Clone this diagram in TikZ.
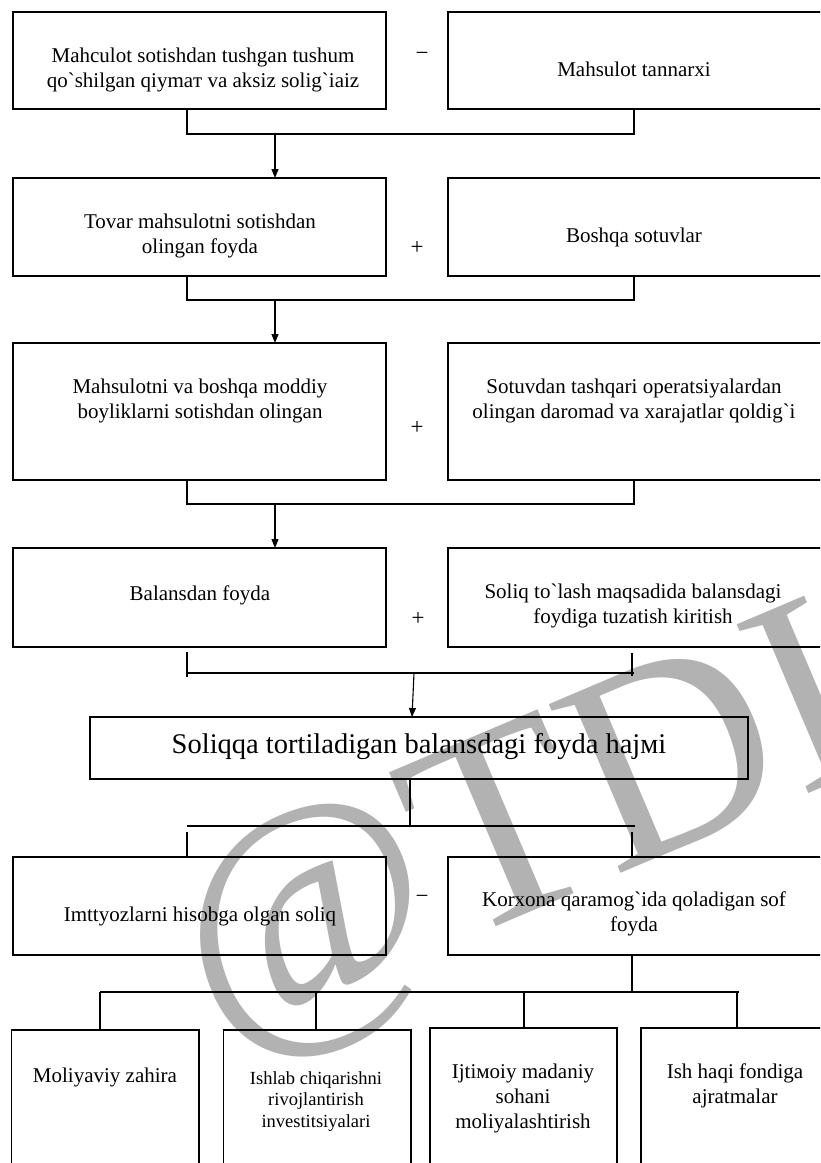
\documentclass[tikz,border=0pt]{standalone}
\usepackage{fontspec}
\setmainfont{Liberation Serif}[Ligatures=TeXOff]
\usetikzlibrary{arrows.meta,calc}
\definecolor{wmgray}{RGB}{178,178,178}
\tikzset{
  box/.style={draw, line width=1.1pt, inner sep=0pt, outer sep=0pt},
  txt/.style={inner sep=0pt, align=center, font=\fontsize{21}{25}\selectfont,
    execute at begin node=\strut, execute at end node=\strut},
  smalltxt/.style={txt, font=\fontsize{18.5}{21.5}\selectfont},
  bigtxt/.style={txt, font=\fontsize{28.5}{34}\selectfont},
  opsign/.style={txt, font=\fontsize{23}{25}\selectfont},
  conn/.style={line width=1.1pt},
  arr/.style={line width=1.1pt, -{Triangle[length=9pt,width=7pt]}},
}
\begin{document}
\begin{tikzpicture}[x=1pt,y=-1pt]
\clip (0,0) rectangle (820,1163);
\fill[white] (0,0) rectangle (820,1163);
% watermark
\node[anchor=base west, rotate=23, inner sep=0pt, text=wmgray,
  font=\fontsize{280}{280}\selectfont] (wm) at (218.6,1044.6) {@TDI};
% boxes
\node[box, minimum width=373pt, minimum height=97pt] (b1l) at (199.5,60.5) {};
\node[box, minimum width=382pt, minimum height=97pt] (b1r) at (639,60.5) {};
\node[box, minimum width=373pt, minimum height=98pt] (b2l) at (199.5,227) {};
\node[box, minimum width=382pt, minimum height=98pt] (b2r) at (639,227) {};
\node[box, minimum width=373pt, minimum height=137pt] (b3l) at (199.5,411.5) {};
\node[box, minimum width=382pt, minimum height=137pt] (b3r) at (639,411.5) {};
\node[box, minimum width=373pt, minimum height=99pt] (b4l) at (199.5,597.5) {};
\node[box, minimum width=382pt, minimum height=99pt] (b4r) at (639,597.5) {};
\node[box, minimum width=658pt, minimum height=62pt] (bbig) at (419,748) {};
\node[box, minimum width=373pt, minimum height=98pt] (b5l) at (199.5,906) {};
\node[box, minimum width=382pt, minimum height=98pt] (b5r) at (639,906) {};
\node[box, minimum width=187.5pt, minimum height=145pt] (bb1) at (105.25,1102.5) {};
\node[box, minimum width=187.5pt, minimum height=145pt] (bb2) at (317.25,1102.5) {};
\node[box, minimum width=187pt, minimum height=147pt] (bb3) at (523.5,1101.5) {};
\node[box, minimum width=189pt, minimum height=147pt] (bb4) at (735.5,1101.5) {};
% texts
\node[txt] (t1l) at (203,71.5) {Mahculot sotishdan tushgan tushum\\qo`shilgan qiymaт va aksiz solig`iaiz};
\node[txt] (t1r) at (634,71) {Mahsulot tannarxi};
\node[opsign] (op1) at (422,55) {−};
\node[txt] (t2l) at (200,237.5) {Tovar mahsulotni sotishdan\\olingan foyda};
\node[txt] (t2r) at (634,237) {Boshqa sotuvlar};
\node[opsign] (op2) at (417,249) {+};
\node[txt] (t3l) at (200,402.5) {Mahsulotni va boshqa moddiy\\boyliklarni sotishdan olingan};
\node[txt] (t3r) at (634,402.5) {Sotuvdan tashqari operatsiyalardan\\olingan daromad va xarajatlar qoldig`i};
\node[opsign] (op3) at (417,429) {+};
\node[txt] (t4l) at (200,595) {Balansdan foyda};
\node[txt] (t4r) at (633,607.5) {Soliq to`lash maqsadida balansdagi\\foydiga tuzatish kiritish};
\node[opsign] (op4) at (418,620) {+};
\node[bigtxt] (tbig) at (419,747) {Soliqqa tortiladigan balansdagi foyda hajмi};
\node[txt] (t5l) at (200,916) {Imttyozlarni hisobga olgan soliq};
\node[txt] (t5r) at (634,915) {Korxona qaramog`ida qoladigan sof\\foyda};
\node[opsign] (op5) at (422,898) {−};
\node[txt] (tb1) at (105,1077) {Moliyaviy zahira};
\node[smalltxt] (tb2) at (316,1102.5) {Ishlab chiqarishni\\rivojlantirish\\investitsiyalari};
\node[txt] (tb3) at (523,1099.7) {Ijtiмoiy madaniy\\sohani\\moliyalashtirish};
\node[txt] (tb4) at (735,1087.5) {Ish haqi fondiga\\ajratmalar};
% junction coordinates
\coordinate (xL) at (187,0);
\coordinate (xR) at (634,0);
\coordinate (j1) at (275,134);
\coordinate (j2) at (275,300);
\coordinate (j3) at (275,504);
\coordinate (j4) at (414,673);
\coordinate (j5) at (410,826);
\coordinate (j6) at (632,992);
\coordinate (hb) at (0,992);
\coordinate (x1) at (100,0);
\coordinate (x2) at (316,0);
\coordinate (x3) at (524,0);
\coordinate (x4) at (737,0);
% row1 -> row2
\draw[conn] (b1l.south -| xL) -- (xL |- j1) -- (xR |- j1) -- (b1r.south -| xR);
\draw[arr] (j1) -- (b2l.north -| j1);
% row2 -> row3
\draw[conn] (b2l.south -| xL) -- (xL |- j2) -- (xR |- j2) -- (b2r.south -| xR);
\draw[arr] (j2) -- (b3l.north -| j2);
% row3 -> row4
\draw[conn] (b3l.south -| xL) -- (xL |- j3) -- (xR |- j3) -- (b3r.south -| xR);
\draw[arr] (j3) -- (b4l.north -| j3);
% row4 -> big
\draw[conn] ($(b4l.south -| xL)+(0,5)$) -- ($(xL |- j4)+(0,4)$);
\draw[conn] ($(b4r.south -| xR)+(-2,6)$) -- ($(xR |- j4)+(-2,3)$);
\draw[conn] (xL |- j4) -- (xR |- j4);
\draw[arr] (j4) -- ($(bbig.north)+(-7,0)$);
% big -> row5
\draw[conn] (bbig.south -| j5) -- (j5);
\draw[conn] (xL |- j5) -- ($(xR |- j5)+(1,0)$);
\draw[conn] ($(xL |- j5)+(0,6)$) -- (b5l.north -| xL);
\draw[conn] ($(xR |- j5)+(-2,6)$) -- ($(b5r.north -| xR)+(-2,0)$);
% row5 -> bottom
\draw[conn] (b5r.south -| j6) -- (j6);
\draw[conn] (x1 |- hb) -- ($(x4 |- hb)+(2,0)$);
\draw[conn] (x1 |- hb) -- (bb1.north -| x1);
\draw[conn] (x2 |- hb) -- (bb2.north -| x2);
\draw[conn] (x3 |- hb) -- (bb3.north -| x3);
\draw[conn] (x4 |- hb) -- (bb4.north -| x4);
\end{tikzpicture}
\end{document}
